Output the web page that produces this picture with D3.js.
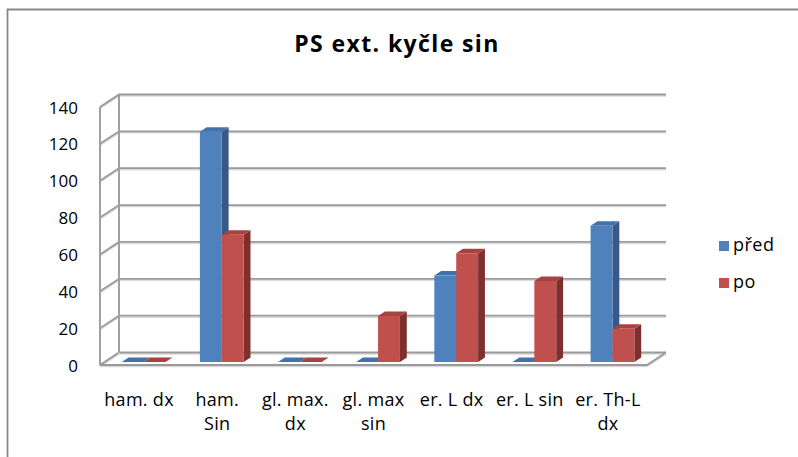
<!DOCTYPE html>
<html>
<head>
<meta charset="utf-8">
<script src="https://cdn.jsdelivr.net/npm/d3@7/dist/d3.min.js"></script>
<style>
  html, body { margin: 0; padding: 0; background: #fff; }
  svg { display: block; font-family: "Open Sans", "Noto Sans", sans-serif; }
</style>
</head>
<body>
<svg id="chart" width="798" height="457"></svg>
<script>
// Category labels (line-wrapped as drawn on the axis)
const categories = [
  ["ham. dx"],
  ["ham.", "Sin"],
  ["gl. max.", "dx"],
  ["gl. max", "sin"],
  ["er. L dx"],
  ["er. L sin"],
  ["er. Th-L", "dx"]
];
const seriesNames = ["před", "po"];
const predValues = [0, 125, 0, 0, 47, 0, 74];
const poValues   = [0, 69, 0, 25, 59, 44, 18];
const yTicks = [0, 20, 40, 60, 80, 100, 120, 140];

const series = [
  { name: seriesNames[0], values: predValues, front: "#4F81BD", top: "#4272AC", side: "#37598A" },
  { name: seriesNames[1], values: poValues,   front: "#C0504D", top: "#A8423F", side: "#7E302E" }
];

const svg = d3.select("#chart");

// Front plane of the 3-D plot box and the depth offset of the back wall
const x0 = 100, x1 = 647, yBottom = 365, yTop = 107;
const DX = 19, DY = -12.5;
const P = (x, y, z) => [x + z * DX, y + z * DY];

const x = d3.scaleBand().domain(d3.range(categories.length)).range([x0, x1]);
const y = d3.scaleLinear().domain([0, 140]).range([yBottom, yTop]);

// Outer frame
svg.append("path")
  .attr("d", "M7.5,457 V9.5 H798")
  .attr("fill", "none").attr("stroke", "#888").attr("stroke-width", 1.8);

// Title
svg.append("text")
  .attr("x", 397).attr("y", 52)
  .attr("text-anchor", "middle")
  .attr("font-size", 23).attr("font-weight", "bold").attr("fill", "#000")
  .attr("letter-spacing", 1.4)
  .text("PS ext. kyčle sin");

const grid = svg.append("g").attr("fill", "none");
const line = d3.line();
const gridColor = "#9a9a9a", shadeColor = "#d9d9d9";

function wallLine(pts) {
  grid.append("path").attr("d", line(pts.map(p => [p[0], p[1] + 1.5])))
    .attr("stroke", shadeColor).attr("stroke-width", 1.5);
  grid.append("path").attr("d", line(pts))
    .attr("stroke", gridColor).attr("stroke-width", 1.8);
}

// Gridlines on the back wall and the left side wall
yTicks.forEach(v => {
  const yy = y(v);
  wallLine([P(x0, yy, 0), P(x0, yy, 1), P(x1, yy, 1)]);
});
// Left wall front and back edges
wallLine([P(x0, y(0), 0), P(x0, y(140), 0)]);
wallLine([P(x0, y(0), 1), P(x0, y(140), 1)]);
// Floor outline
wallLine([P(x0, y(0), 0), P(x1, y(0), 0), P(x1, y(0), 1)]);

// Y-axis tick labels
svg.append("g")
  .selectAll("text").data(yTicks).join("text")
  .attr("x", 78).attr("y", d => y(d) + 2)
  .attr("text-anchor", "end").attr("dominant-baseline", "middle")
  .attr("font-size", 17).attr("fill", "#000")
  .text(d => d);

// Bars: each pair sits at a fixed depth inside the box
const z0 = 0.24, z1 = 0.6;
const barW = x.bandwidth() * 0.28;
const bars = svg.append("g");

categories.forEach((c, i) => {
  const cx = x(i) + x.bandwidth() / 2;
  series.forEach((s, k) => {
    const v = s.values[i];
    const left = cx - barW + k * barW;
    const right = left + barW;
    const yt = y(v), yb = y(0);
    const poly = pts => bars.append("polygon").attr("points", pts.map(p => p.join(",")).join(" "));
    if (v > 0) {
      // right side face
      poly([P(right, yb, z0), P(right, yb, z1), P(right, yt, z1), P(right, yt, z0)]).attr("fill", s.side);
    }
    // top face
    poly([P(left, yt, z0), P(left, yt, z1), P(right, yt, z1), P(right, yt, z0)]).attr("fill", s.top);
    if (v > 0) {
      // front face
      poly([P(left, yb, z0), P(right, yb, z0), P(right, yt, z0), P(left, yt, z0)]).attr("fill", s.front);
    }
  });
});

// Category labels
const catG = svg.append("g").attr("font-size", 18).attr("letter-spacing", 0.3)
  .attr("fill", "#000").attr("text-anchor", "middle");
categories.forEach((lines, i) => {
  const t = catG.append("text").attr("x", x(i) + x.bandwidth() / 2).attr("y", 406);
  lines.forEach((ln, j) => {
    t.append("tspan").attr("x", x(i) + x.bandwidth() / 2).attr("dy", j === 0 ? 0 : 24).text(ln);
  });
});

// Legend
const legend = svg.append("g");
series.forEach((s, k) => {
  const ly = 241 + k * 37;
  legend.append("rect").attr("x", 719).attr("y", ly).attr("width", 10).attr("height", 10).attr("fill", s.front);
  legend.append("text").attr("x", 733).attr("y", ly + 10)
    .attr("font-size", 18).attr("letter-spacing", 0.5).attr("fill", "#000").text(s.name);
});
</script>
</body>
</html>
